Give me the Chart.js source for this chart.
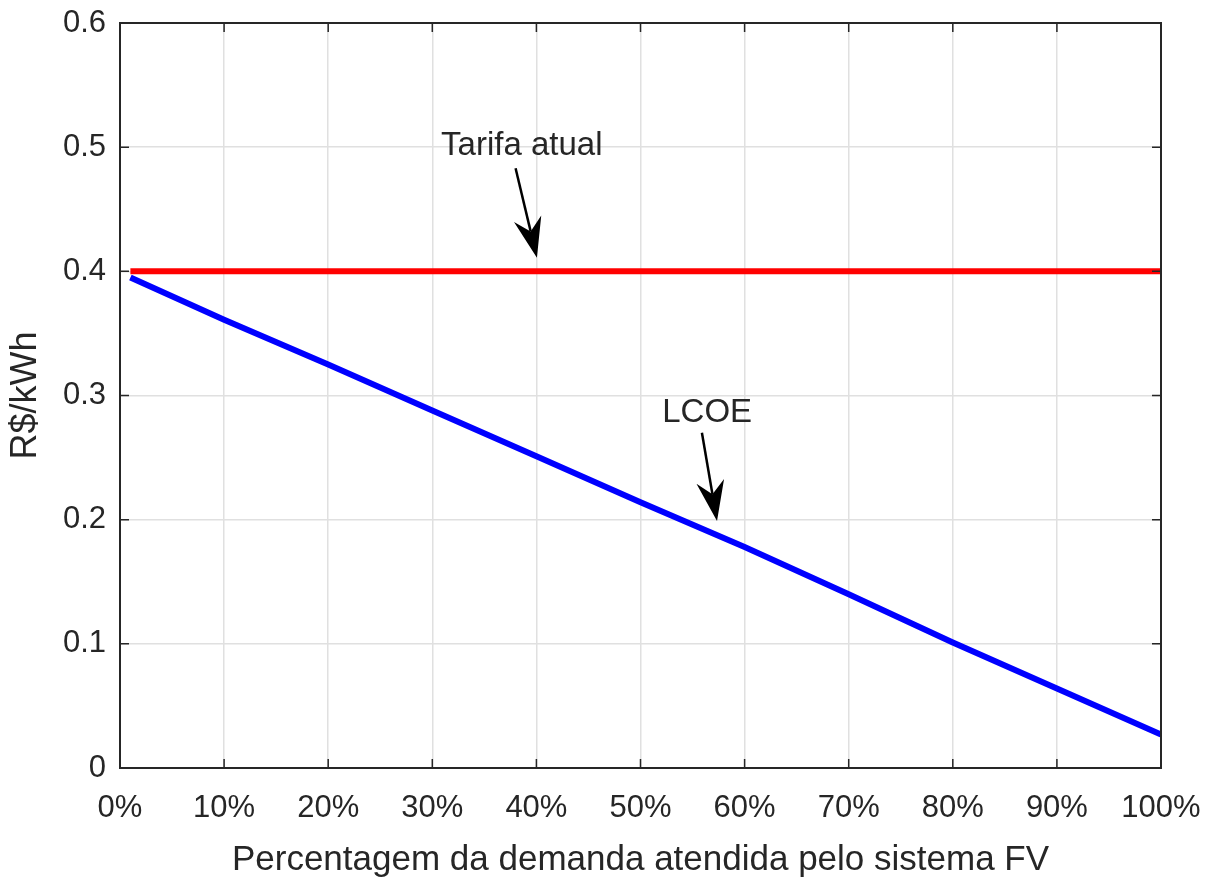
<!DOCTYPE html>
<html>
<head>
<meta charset="utf-8">
<script src="https://cdn.jsdelivr.net/npm/chart.js@4/dist/chart.umd.min.js"></script>
<style>
  html, body { margin: 0; padding: 0; background: #fff; }
  canvas { display: block; }
</style>
</head>
<body>
<canvas id="chart" width="1219" height="885"></canvas>
<script>
// data
const demandPct = [1, 10, 20, 30, 40, 50, 60, 70, 80, 90, 100];
const lcoe = [0.395, 0.361, 0.325, 0.288, 0.251, 0.214, 0.178, 0.140, 0.101, 0.064, 0.027];
const tariffPct = [1, 100];
const tariff = [0.4, 0.4];
const xTicks = [0, 10, 20, 30, 40, 50, 60, 70, 80, 90, 100];
const yTicks = [0, 0.1, 0.2, 0.3, 0.4, 0.5, 0.6];

// text labels with arrows, in data units
const notes = [
    { text: 'Tarifa atual', tx: 38.6, ty: 0.501, fx: 38.0, fy: 0.483, ax: 40.05, ay: 0.411 },
    { text: 'LCOE', tx: 56.4, ty: 0.286, fx: 55.9, fy: 0.270, ax: 57.35, ay: 0.199 }
];

const ink = '#262626';
const font = 'Liberation Sans, Arial, sans-serif';

function toPoints(xs, ys) {
    return xs.map((x, i) => ({ x: x, y: ys[i] }));
}

// box + inward ticks like matlab
const boxPlugin = {
    id: 'box',
    afterDatasetsDraw(chart) {
        const ctx = chart.ctx;
        const a = chart.chartArea;
        const xs = chart.scales.x, ys = chart.scales.y;
        const len = 9;
        ctx.save();
        ctx.strokeStyle = ink;
        ctx.lineWidth = 1.5;
        ctx.beginPath();
        xTicks.forEach(v => {
            const px = xs.getPixelForValue(v);
            ctx.moveTo(px, a.bottom); ctx.lineTo(px, a.bottom - len);
            ctx.moveTo(px, a.top); ctx.lineTo(px, a.top + len);
        });
        yTicks.forEach(v => {
            const py = ys.getPixelForValue(v);
            ctx.moveTo(a.left, py); ctx.lineTo(a.left + len, py);
            ctx.moveTo(a.right, py); ctx.lineTo(a.right - len, py);
        });
        ctx.stroke();
        ctx.lineWidth = 2;
        ctx.strokeRect(a.left, a.top, a.right - a.left, a.bottom - a.top);
        ctx.restore();
    }
};

const notePlugin = {
    id: 'notes',
    afterDatasetsDraw(chart) {
        const ctx = chart.ctx;
        const xs = chart.scales.x, ys = chart.scales.y;
        ctx.save();
        notes.forEach(n => {
            const tx = xs.getPixelForValue(n.tx), ty = ys.getPixelForValue(n.ty);
            ctx.fillStyle = ink;
            ctx.font = '33px ' + font;
            ctx.textAlign = 'center';
            ctx.textBaseline = 'middle';
            ctx.fillText(n.text, tx, ty);

            const x1 = xs.getPixelForValue(n.fx), y1 = ys.getPixelForValue(n.fy);
            const x2 = xs.getPixelForValue(n.ax), y2 = ys.getPixelForValue(n.ay);
            const ang = Math.atan2(y2 - y1, x2 - x1);
            const headLen = 40, headW = 14, back = 13;
            const bx = x2 - headLen * Math.cos(ang), by = y2 - headLen * Math.sin(ang);
            const cx = x2 - (headLen - back) * Math.cos(ang), cy = y2 - (headLen - back) * Math.sin(ang);
            ctx.strokeStyle = '#000';
            ctx.lineWidth = 2.5;
            ctx.beginPath();
            ctx.moveTo(x1, y1);
            ctx.lineTo(cx, cy);
            ctx.stroke();
            // notched arrow head
            const nx = -Math.sin(ang), ny = Math.cos(ang);
            ctx.fillStyle = '#000';
            ctx.beginPath();
            ctx.moveTo(x2, y2);
            ctx.lineTo(bx + nx * headW, by + ny * headW);
            ctx.lineTo(cx, cy);
            ctx.lineTo(bx - nx * headW, by - ny * headW);
            ctx.closePath();
            ctx.fill();
        });
        ctx.restore();
    }
};

new Chart(document.getElementById('chart'), {
    type: 'line',
    data: {
        datasets: [
            {
                label: 'Tarifa atual',
                data: toPoints(tariffPct, tariff),
                borderColor: '#ff0000',
                borderWidth: 6,
                pointRadius: 0,
                fill: false
            },
            {
                label: 'LCOE',
                data: toPoints(demandPct, lcoe),
                borderColor: '#0000ff',
                borderWidth: 6,
                pointRadius: 0,
                fill: false
            }
        ]
    },
    options: {
        responsive: false,
        animation: false,
        layout: { padding: { top: 23, right: 58, left: 0, bottom: 0 } },
        plugins: {
            legend: { display: false },
            tooltip: { enabled: false }
        },
        scales: {
            x: {
                type: 'linear',
                min: 0,
                max: 100,
                afterBuildTicks: s => { s.ticks = xTicks.map(v => ({ value: v })); },
                afterFit: s => { s.height = 117; s.paddingLeft = 0; s.paddingRight = 0; },
                grid: { color: '#e0e0e0', lineWidth: 1.5, drawTicks: false },
                border: { display: false },
                ticks: {
                    color: ink,
                    padding: 22,
                    maxRotation: 0,
                    font: { family: font, size: 31 },
                    callback: v => v + '%'
                },
                title: {
                    display: true,
                    text: 'Percentagem da demanda atendida pelo sistema FV',
                    color: ink,
                    font: { family: font, size: 35 },
                    padding: { top: 4 }
                }
            },
            y: {
                min: 0,
                max: 0.6,
                afterBuildTicks: s => { s.ticks = yTicks.map(v => ({ value: v })); },
                afterFit: s => { s.width = 120; s.paddingTop = 0; s.paddingBottom = 0; },
                grid: { color: '#e0e0e0', lineWidth: 1.5, drawTicks: false },
                border: { display: false },
                ticks: {
                    color: ink,
                    padding: 14,
                    font: { family: font, size: 31 },
                    callback: v => v === 0 ? '0' : v.toFixed(1)
                },
                title: {
                    display: true,
                    text: 'R$/kWh',
                    color: ink,
                    font: { family: font, size: 36 },
                    padding: { bottom: 0 }
                }
            }
        }
    },
    plugins: [boxPlugin, notePlugin]
});
</script>
</body>
</html>
